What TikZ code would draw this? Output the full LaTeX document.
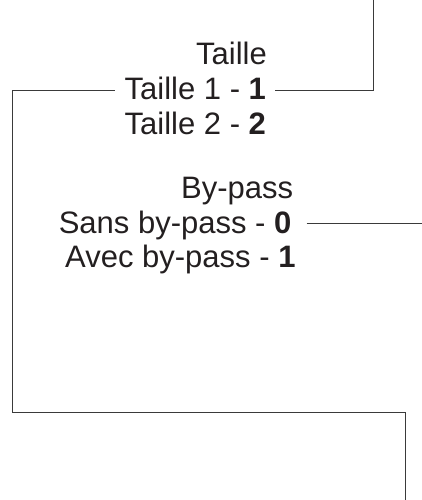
\documentclass[tikz,border=0pt]{standalone}
\usepackage{fontspec}
\setmainfont{Liberation Sans}
\definecolor{txt}{HTML}{231F20}
\definecolor{ln}{HTML}{3A3A3A}
\begin{document}
\begin{tikzpicture}[x=1pt,y=-1pt,
  lbl/.style={inner sep=0pt,anchor=base west,text=txt,font=\fontsize{31}{34}\selectfont},
  conn/.style={draw=ln,line width=1pt}]
\useasboundingbox (0,0) rectangle (422,500);
\node[lbl] (tt) at (196,65) {Taille};
\node[lbl] (t1) at (124.5,100) {Taille 1 - \textbf{1}};
\node[lbl] (t2) at (124.5,134.5) {Taille 2 - \textbf{2}};
\node[lbl] (bp) at (181,198) {By-pass};
\node[lbl] (s0) at (58.6,233) {Sans by-pass - \textbf{0}};
\node[lbl] (a1) at (65,267) {Avec by-pass - \textbf{1}};
\coordinate (top) at (373,0);
\coordinate (bot) at (405,500);
\coordinate (rend) at (422,223);
\draw[conn] (top) |- ([xshift=9pt,yshift=9pt]t1.base east);
\draw[conn] ([xshift=-10pt,yshift=9pt]t1.base west) -- (12,91) -- (12,412) -| (bot);
\draw[conn] ([xshift=15pt,yshift=10pt]s0.base east) -- (rend);
\end{tikzpicture}
\end{document}
